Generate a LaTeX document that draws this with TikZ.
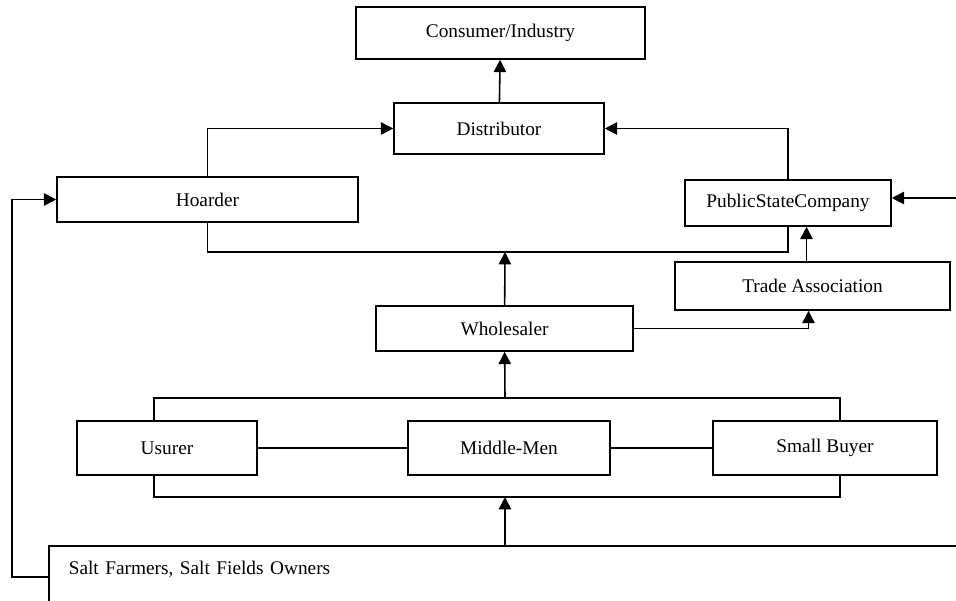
\documentclass[tikz,border=0pt]{standalone}
\usepackage{fontspec}
\setmainfont{Liberation Serif}
\usetikzlibrary{arrows.meta}

\begin{document}
\begin{tikzpicture}[x=0.02cm, y=-0.02cm,
   box/.style={draw, rectangle, line width=0.9pt, inner sep=0pt,
      font=\fontsize{11pt}{13pt}\selectfont},
   arr/.style={line width=0.9pt, -{Triangle[length=7pt,width=7pt]}},
   link/.style={line width=0.9pt}]
\useasboundingbox (0,0) rectangle (956,601);

\node[box, minimum width=5.78cm, minimum height=1.04cm] (cons) at (500.5,33) {Consumer/Industry};
\node[box, minimum width=4.2cm, minimum height=1.02cm] (dist) at (499,128.5) {Distributor};
\node[box, minimum width=6.02cm, minimum height=0.9cm] (hoard) at (207.5,199.5) {Hoarder};
\node[box, minimum width=4.12cm, minimum height=0.92cm] (psc) at (788,203) {PublicStateCompany};
\node[box, minimum width=5.5cm, minimum height=0.96cm] (trade) at (812.5,286) {Trade Association};
\node[box, minimum width=5.14cm, minimum height=0.9cm] (whole) at (504.5,328.5) {Wholesaler};
\node[box, minimum width=3.6cm, minimum height=1.08cm] (usurer) at (167,448) {Usurer};
\node[box, minimum width=4.04cm, minimum height=1.08cm] (middle) at (509,448) {Middle-Men};
\node[box, minimum width=4.48cm, minimum height=1.08cm] (small) at (825,448) {Small Buyer};
\node[box, anchor=north west, text width=18cm, align=left, text depth=1.5cm,
   inner xsep=0.4cm, inner ysep=0.3cm] (salt) at (48,545) {Salt Farmers, Salt Fields Owners};

\coordinate (join) at (505,252);
\coordinate (top) at (505,398);
\coordinate (bot) at (505,497);
\coordinate (east) at (990,198);
\coordinate (west) at (12,577);

% upper part
\draw[arr] (dist) -- (cons);
\draw[arr] (hoard.north) |- (dist.west);
\draw[arr] (psc.north) |- (dist.east);
\draw[arr] (east) -- (east -| psc.east);
\draw[link] (hoard.south) |- (join) -| (psc.south);
\draw[arr] (whole) -- (join);
\draw[arr] ([xshift=-0.12cm]trade.north) coordinate (tn) -- (tn |- psc.south);
\draw[arr] (whole.east) -| ([xshift=-0.08cm]trade.south);

% lower part
\draw[arr] (top) -- (whole);
\draw[link] ([xshift=-0.26cm]usurer.north) |- (top) -| ([xshift=0.3cm]small.north);
\draw[link] ([xshift=-0.26cm]usurer.south) |- (bot) -| ([xshift=0.3cm]small.south);
\draw[link] (usurer) -- (middle);
\draw[link] (middle) -- (small);
\draw[arr] (salt.north -| bot) -- (bot);
\draw[arr] (west -| salt.west) -- (west) |- (hoard.west);
\end{tikzpicture}
\end{document}
